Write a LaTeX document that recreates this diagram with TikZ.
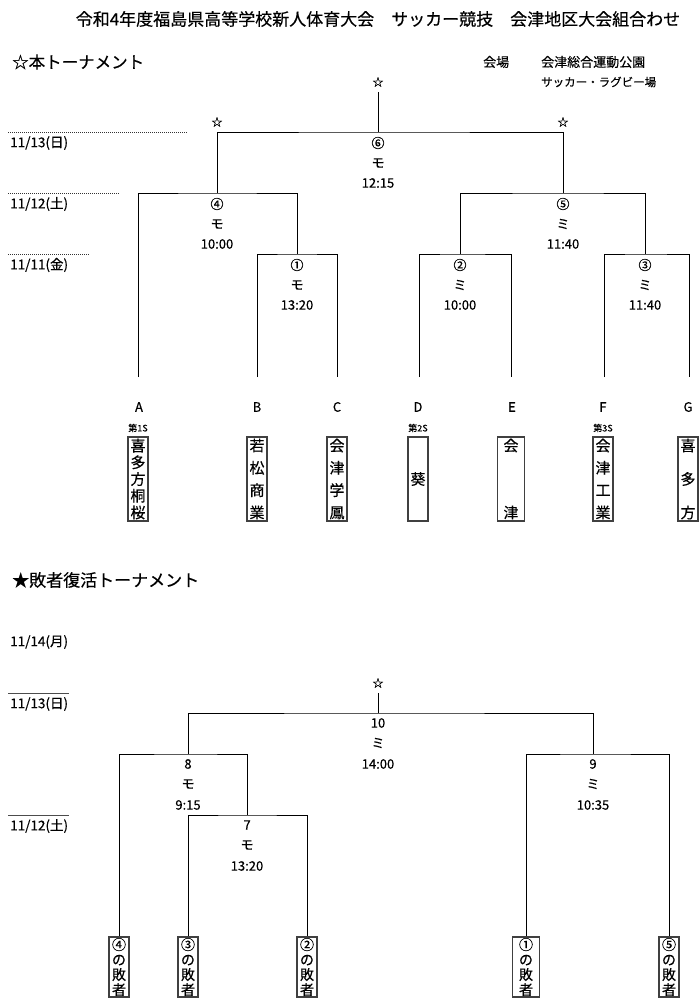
\documentclass[tikz,border=0pt]{standalone}
\usepackage{fontspec}
\setmainfont{Noto Sans CJK JP}[FakeBold=0.4]
\begin{document}
\begin{tikzpicture}[x=1pt,y=-1pt,
  lbl/.style={inner sep=0pt, font=\fontsize{13}{14}\selectfont},
  star/.style={inner sep=0pt, font=\fontsize{11}{12}\selectfont},
  datel/.style={anchor=west, inner sep=0pt, font=\fontsize{13.5}{15}\selectfont},
  headl/.style={anchor=west, inner sep=0pt, font=\fontsize{16.5}{18}\selectfont},
  letl/.style={inner sep=0pt, font=\fontsize{13}{14}\selectfont},
  seedl/.style={inner sep=0pt, font=\fontsize{9}{10}\selectfont},
  teambox/.style={draw=black!75, line width=1.1pt, minimum width=20pt, minimum height=84pt, inner sep=0pt, align=center},
  loserbox/.style={draw=black!75, line width=1.1pt, minimum width=20pt, minimum height=60pt, inner sep=0pt, align=center, font=\fontsize{14}{15}\selectfont},
  brk/.style={line width=0.8pt, black},
  dotl/.style={line width=0.8pt, black!80, dash pattern=on 1pt off 1pt},
  soll/.style={line width=0.8pt, black!70}
]
\useasboundingbox (0,0) rectangle (700,1000);

% ---------- headers ----------
\node[inner sep=0pt, font=\fontsize{17}{18}\selectfont] (title) at (378,19) {令和4年度福島県高等学校新人体育大会　サッカー競技　会津地区大会組合わせ};
\node[headl] (hmain) at (12,62) {☆本トーナメント};
\node[anchor=west, inner sep=0pt, font=\fontsize{13}{15}\selectfont] (venue) at (483,62) {会場};
\node[anchor=west, inner sep=0pt, font=\fontsize{13}{15}\selectfont] (venue1) at (541,62) {会津総合運動公園};
\node[anchor=west, inner sep=0pt, font=\fontsize{11.5}{15}\selectfont] (venue2) at (541,82) {サッカー・ラグビー場};

% ---------- dates (main) ----------
\coordinate (d13a) at (8,132); \coordinate (d13b) at (187,132);
\coordinate (d12a) at (8,193); \coordinate (d12b) at (119,193);
\coordinate (d11a) at (8,254); \coordinate (d11b) at (89,254);
\draw[dotl] (d13a) -- (d13b);
\draw[dotl] (d12a) -- (d12b);
\draw[dotl] (d11a) -- (d11b);
\node[datel] (dt13) at (10,143) {11/13(日)};
\node[datel] (dt12) at (10,204) {11/12(土)};
\node[datel] (dt11) at (10,265) {11/11(金)};

% ---------- main bracket ----------
\coordinate (fA) at (138,377);
\coordinate (fB) at (257,377);
\coordinate (fC) at (337,377);
\coordinate (fD) at (419,377);
\coordinate (fE) at (511,377);
\coordinate (fF) at (604,377);
\coordinate (fG) at (689,377);
\coordinate (j1) at (297,254);
\coordinate (j2) at (460,254);
\coordinate (j3) at (645,254);
\coordinate (j4) at (217,193);
\coordinate (j5) at (563,193);
\coordinate (j6) at (378,132);
\coordinate (jtop) at (378,92);

\draw[brk] (fB) |- (j1) -| (fC);
\draw[brk] (fD) |- (j2) -| (fE);
\draw[brk] (fF) |- (j3) -| (fG);
\draw[brk] (fA) |- (j4) -| (j1);
\draw[brk] (j2) |- (j5) -| (j3);
\draw[brk] (j4) |- (j6) -| (j5);
\draw[brk] (j6) -- (jtop);

\node[star] (s6) at (378,82) {☆};
\node[star] (s4) at (217,122) {☆};
\node[star] (s5) at (563,122) {☆};

\node[lbl] (n6) at (378,143) {⑥};
\node[lbl] (k6) at (378,163) {モ};
\node[lbl] (t6) at (378,183) {12:15};
\node[lbl] (n4) at (217,204) {④};
\node[lbl] (k4) at (217,224) {モ};
\node[lbl] (t4) at (217,244) {10:00};
\node[lbl] (n5) at (563,204) {⑤};
\node[lbl] (k5) at (563,224) {ミ};
\node[lbl] (t5) at (563,244) {11:40};
\node[lbl] (n1) at (297,265) {①};
\node[lbl] (k1) at (297,285) {モ};
\node[lbl] (t1) at (297,305) {13:20};
\node[lbl] (n2) at (460,265) {②};
\node[lbl] (k2) at (460,285) {ミ};
\node[lbl] (t2) at (460,305) {10:00};
\node[lbl] (n3) at (645,265) {③};
\node[lbl] (k3) at (645,285) {ミ};
\node[lbl] (t3) at (645,305) {11:40};

% ---------- teams ----------
\node[letl] (LA) at (139,407) {A};
\node[letl] (LB) at (257,407) {B};
\node[letl] (LC) at (337,407) {C};
\node[letl] (LD) at (418,407) {D};
\node[letl] (LE) at (512,407) {E};
\node[letl] (LF) at (603,407) {F};
\node[letl] (LG) at (688,407) {G};
\node[seedl] (S1) at (138,428) {第1S};
\node[seedl] (S2) at (418,428) {第2S};
\node[seedl] (S3) at (603,428) {第3S};

\node[teambox, font=\fontsize{15}{16.7}\selectfont] (bA) at (138,479) {喜\\多\\方\\桐\\桜};
\node[teambox, font=\fontsize{15}{22.3}\selectfont] (bB) at (257,479) {若\\松\\商\\業};
\node[teambox, font=\fontsize{15}{22.3}\selectfont] (bC) at (337,479) {会\\津\\学\\鳳};
\node[teambox, font=\fontsize{15}{16}\selectfont] (bD) at (418,479) {葵};
\node[teambox, minimum width=27pt, font=\fontsize{15}{67}\selectfont] (bE) at (511,479) {会\\津};
\node[teambox, font=\fontsize{15}{22.3}\selectfont] (bF) at (603,479) {会\\津\\工\\業};
\node[teambox, font=\fontsize{15}{33.5}\selectfont] (bG) at (688,479) {喜\\多\\方};

% ---------- repechage ----------
\node[headl, font=\fontsize{17}{19}\selectfont] (hsub) at (12,580) {★敗者復活トーナメント};
\node[datel] (dt14) at (10,642) {11/14(月)};
\coordinate (e13a) at (8,693); \coordinate (e13b) at (69,693);
\coordinate (e12a) at (8,815); \coordinate (e12b) at (69,815);
\draw[soll] (e13a) -- (e13b);
\draw[soll] (e12a) -- (e12b);
\node[datel] (dtb13) at (10,704) {11/13(日)};
\node[datel] (dtb12) at (10,826) {11/12(土)};

\node[loserbox] (l4) at (119,967) {④\\の\\敗\\者};
\node[loserbox] (l3) at (188,967) {③\\の\\敗\\者};
\node[loserbox] (l2) at (307,967) {②\\の\\敗\\者};
\node[loserbox, minimum width=27pt] (l1) at (526,967) {①\\の\\敗\\者};
\node[loserbox] (l5) at (669,967) {⑤\\の\\敗\\者};

\coordinate (j7) at (247,815);
\coordinate (j8) at (188,754);
\coordinate (j9) at (593,754);
\coordinate (j10) at (378,713);
\coordinate (jtop2) at (378,693);

\draw[brk] (l3.north) |- (j7) -| (l2.north);
\draw[brk] (l4.north) |- (j8) -| (j7);
\draw[brk] (l1.north) |- (j9) -| (l5.north);
\draw[brk] (j8) |- (j10) -| (j9);
\draw[brk] (j10) -- (jtop2);

\node[star] (s10) at (378,683) {☆};

\node[lbl] (n10) at (378,723) {10};
\node[lbl] (k10) at (378,743) {ミ};
\node[lbl] (t10) at (378,764) {14:00};
\node[lbl] (n8) at (188,764) {8};
\node[lbl] (k8) at (188,784) {モ};
\node[lbl] (t8) at (188,805) {9:15};
\node[lbl] (n9) at (593,764) {9};
\node[lbl] (k9) at (593,784) {ミ};
\node[lbl] (t9) at (593,805) {10:35};
\node[lbl] (n7) at (247,825) {7};
\node[lbl] (k7) at (247,845) {モ};
\node[lbl] (t7) at (247,866) {13:20};
\end{tikzpicture}
\end{document}
